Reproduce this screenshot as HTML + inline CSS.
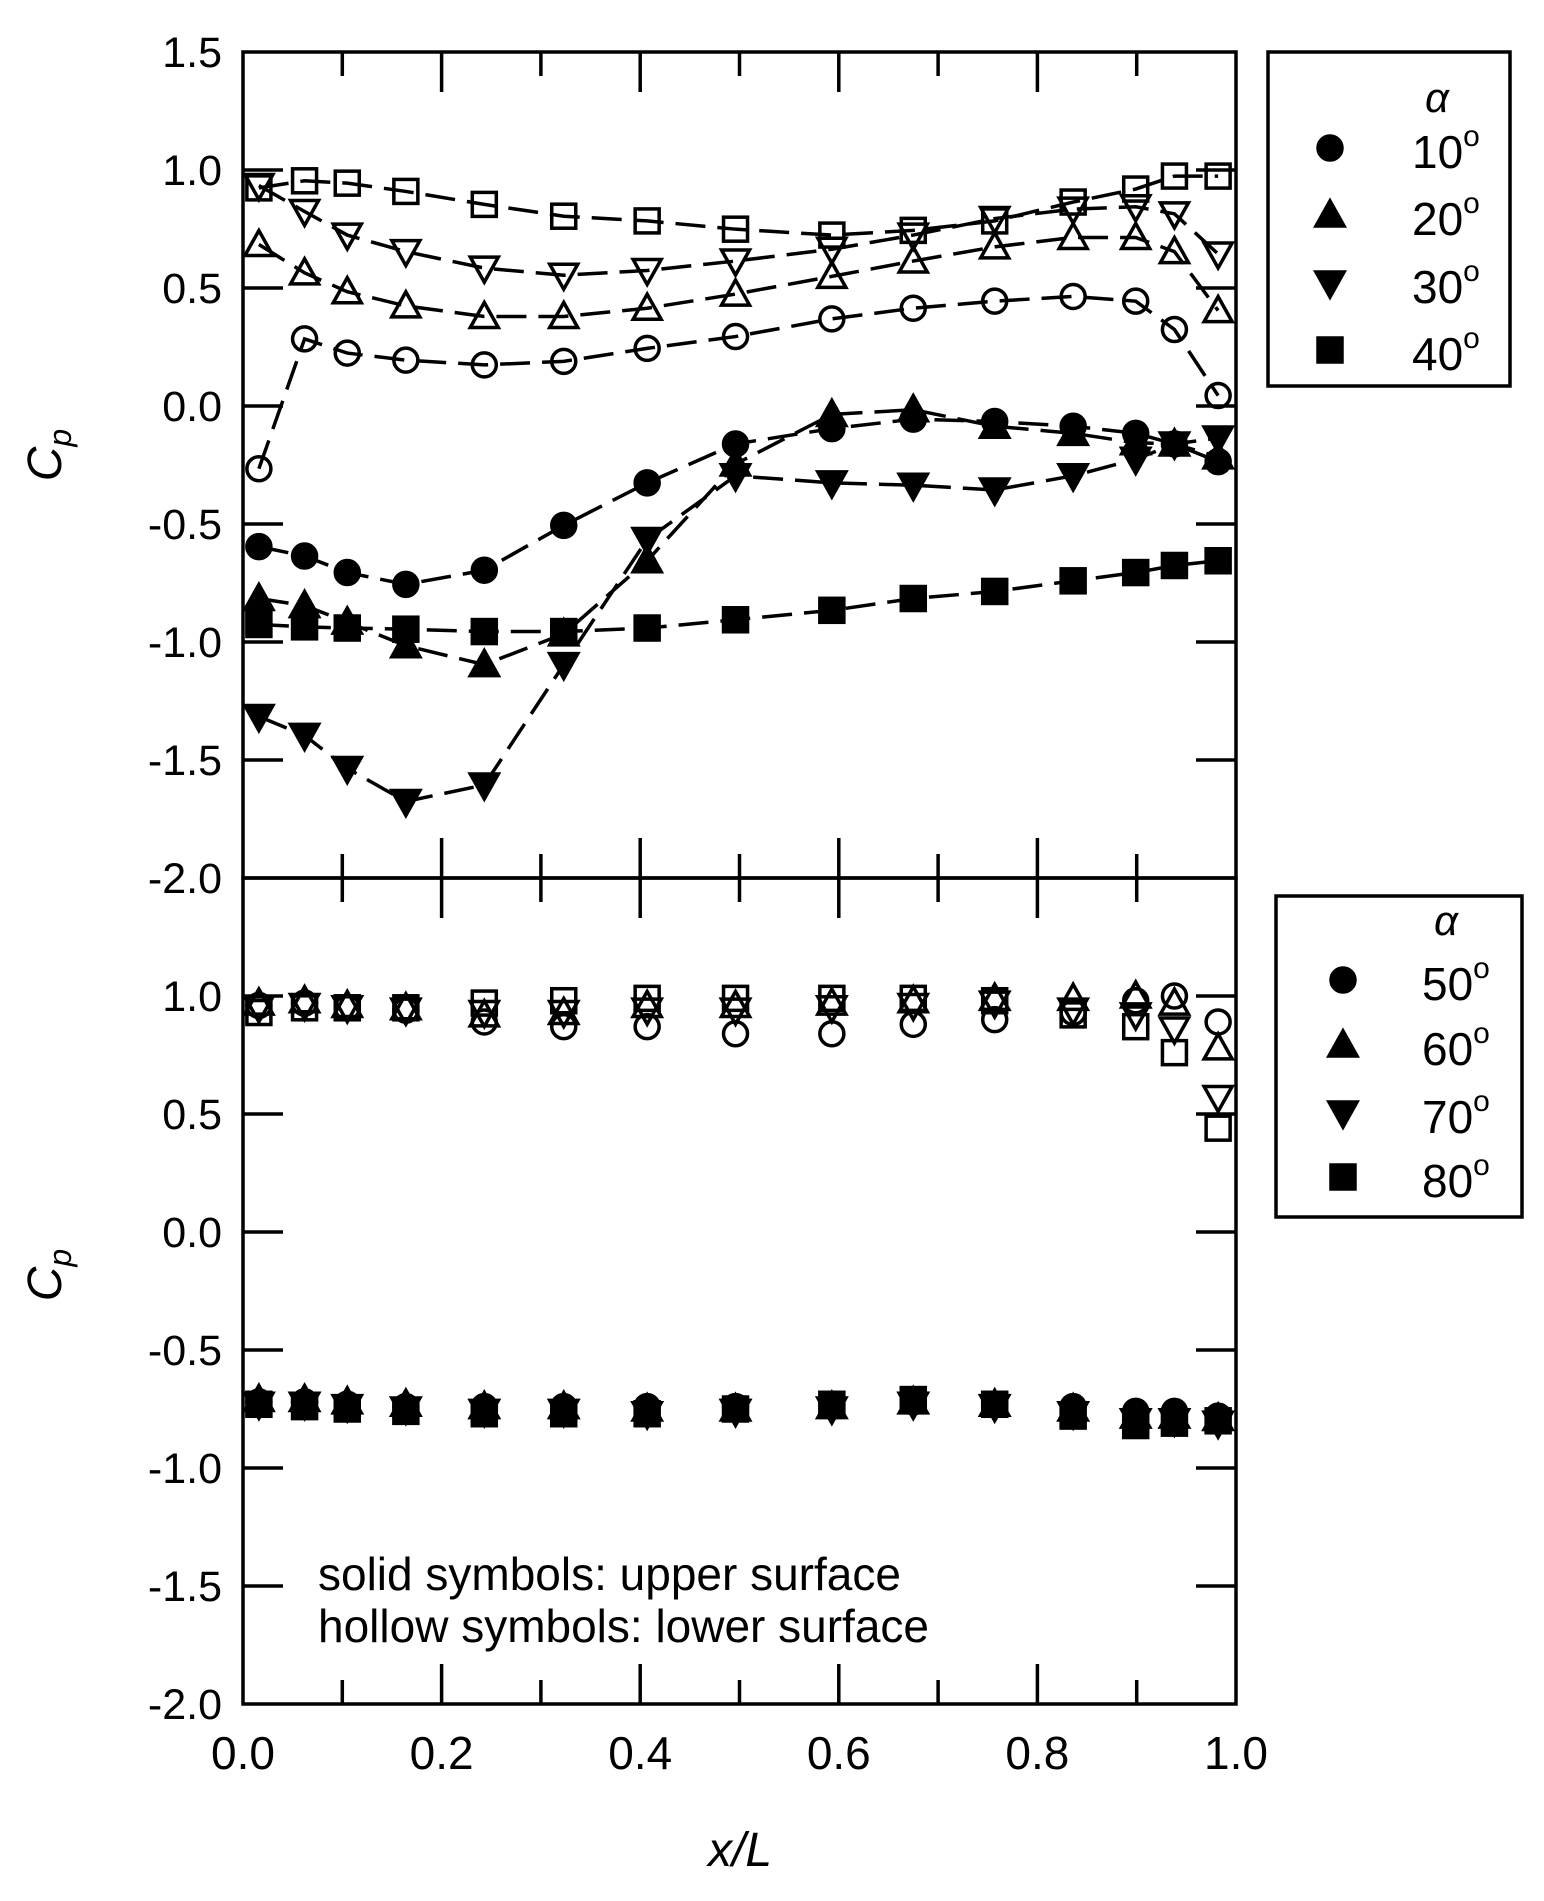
<!DOCTYPE html>
<html><head><meta charset="utf-8"><style>
html,body{margin:0;padding:0;background:#fff;}
svg{display:block;}
text{font-family:"Liberation Sans",Arial,sans-serif;fill:#000;}
</style></head><body>
<svg id="s" width="1544" height="1901" viewBox="0 0 1544 1901" xmlns="http://www.w3.org/2000/svg">
<rect width="1544" height="1901" fill="#fff"/>
<g id="g"></g>
<text x="318" y="1590" font-size="46">solid symbols: upper surface</text>
<text x="318" y="1642" font-size="46">hollow symbols: lower surface</text>
<text x="740" y="1866" font-size="48" font-style="italic" text-anchor="middle">x/L</text>
<text x="52" y="464" font-size="48" font-style="italic" text-anchor="middle" transform="rotate(-90 52 455)">C<tspan font-size="32" dy="10">p</tspan></text>
<text x="52" y="1284" font-size="48" font-style="italic" text-anchor="middle" transform="rotate(-90 52 1275)">C<tspan font-size="32" dy="10">p</tspan></text>
</svg>
<script>
var NS="http://www.w3.org/2000/svg",G=document.getElementById("g");
function el(t,a){var e=document.createElementNS(NS,t);for(var k in a)e.setAttribute(k,a[k]);G.appendChild(e);return e;}
function txt(x,y,s,fs,anc,extra){var a={x:x,y:y,"font-size":fs,"text-anchor":anc||"start"};if(extra)for(var k in extra)a[k]=extra[k];var e=el("text",a);e.textContent=s;return e;}
var L=243,R=1236,W=R-L;
function X(v){return L+v*W;}
function marker(type,filled,x,y){
  var f=filled?"#000":"none",st={stroke:"#000","stroke-width":3.5,fill:f};
  if(type==0){st.cx=x;st.cy=y;st.r=12;el("circle",st);}
  else if(type==1){st.points=(x-14)+","+(y+11)+" "+(x+14)+","+(y+11)+" "+x+","+(y-14);el("polygon",st);}
  else if(type==2){st.points=(x-14)+","+(y-11)+" "+(x+14)+","+(y-11)+" "+x+","+(y+14);el("polygon",st);}
  else {st.x=x-12;st.y=y-12;st.width=24;st.height=24;el("rect",st);}
}
[[52,878],[878,1704]].forEach(function(p){
  var t=p[0],b=p[1];
  el("rect",{x:L,y:t,width:W,height:b-t,fill:"none",stroke:"#000","stroke-width":3.5});
  for(var i=1;i<10;i++){var len=(i%2==0)?40:24,x=X(i/10);
    el("line",{x1:x,y1:b,x2:x,y2:b-len,stroke:"#000","stroke-width":3.5});
    el("line",{x1:x,y1:t,x2:x,y2:t+len,stroke:"#000","stroke-width":3.5});}
  for(var v=-1.5;v<1.5;v+=0.5){var y=b-(v+2)*236;
    el("line",{x1:L,y1:y,x2:L+40,y2:y,stroke:"#000","stroke-width":3.5});
    el("line",{x1:R,y1:y,x2:R-40,y2:y,stroke:"#000","stroke-width":3.5});}
  for(var v=-2;v<=1.51;v+=0.5){var y=b-(v+2)*236;
    if(t==878&&v>1.4)continue;
    txt(222,y+15,(v<0?"-":"")+Math.abs(v).toFixed(1),43,"end");}
});
["0.0","0.2","0.4","0.6","0.8","1.0"].forEach(function(s,i){txt(X(i*0.2),1769,s,46,"middle");});
var xs=[0.016,0.062,0.105,0.164,0.243,0.323,0.407,0.496,0.593,0.675,0.757,0.836,0.899,0.938,0.982];
var TD={
 l0:[-0.27,0.28,0.22,0.19,0.17,0.185,0.24,0.29,0.365,0.41,0.44,0.46,0.44,0.32,0.04],
 l1:[0.68,0.56,0.48,0.42,0.375,0.375,0.41,0.47,0.545,0.61,0.67,0.71,0.71,0.65,0.40],
 l2:[0.93,0.82,0.72,0.65,0.58,0.55,0.57,0.61,0.66,0.72,0.79,0.83,0.84,0.81,0.64],
 l3:[0.92,0.95,0.94,0.905,0.85,0.80,0.78,0.745,0.72,0.74,0.78,0.86,0.915,0.97,0.97],
 u0:[-0.60,-0.64,-0.71,-0.76,-0.70,-0.51,-0.33,-0.165,-0.10,-0.06,-0.07,-0.09,-0.12,-0.165,-0.24],
 u1:[-0.82,-0.85,-0.92,-1.02,-1.10,-0.97,-0.66,-0.25,-0.04,-0.02,-0.09,-0.12,-0.16,-0.165,-0.22],
 u2:[-1.32,-1.40,-1.54,-1.68,-1.61,-1.10,-0.57,-0.30,-0.33,-0.34,-0.36,-0.30,-0.23,-0.165,-0.14],
 u3:[-0.93,-0.94,-0.945,-0.95,-0.96,-0.96,-0.945,-0.91,-0.87,-0.82,-0.79,-0.745,-0.71,-0.68,-0.66]};
function TY(v){return 405-v*236;}
function BY(v){return 1232-v*236;}
var keys=["l0","l1","l2","l3","u0","u1","u2","u3"];
keys.forEach(function(k){
  var d=TD[k],pts=xs.map(function(x,i){return X(x)+","+TY(d[i]);}).join(" ");
  el("polyline",{points:pts,fill:"none",stroke:"#000","stroke-width":3.5,"stroke-dasharray":"30,12"});
});
keys.forEach(function(k){
  var t=+k[1],f=k[0]=="u";TD[k].forEach(function(v,i){marker(t,f,X(xs[i]),TY(v));});
});
var BD={
 l0:[0.96,0.97,0.95,0.94,0.89,0.87,0.87,0.84,0.84,0.88,0.90,0.93,0.98,1.0,0.89],
 l1:[0.97,0.98,0.96,0.95,0.92,0.93,0.96,0.96,0.97,0.98,0.99,0.99,1.0,0.97,0.78],
 l2:[0.95,0.96,0.95,0.94,0.93,0.93,0.94,0.94,0.95,0.96,0.97,0.94,0.92,0.86,0.57],
 l3:[0.93,0.95,0.95,0.95,0.97,0.98,0.99,0.99,0.99,0.99,0.98,0.92,0.87,0.76,0.44],
 u0:[-0.72,-0.72,-0.73,-0.74,-0.74,-0.74,-0.74,-0.74,-0.73,-0.72,-0.73,-0.74,-0.76,-0.76,-0.78],
 u1:[-0.71,-0.71,-0.72,-0.73,-0.74,-0.74,-0.75,-0.75,-0.74,-0.72,-0.73,-0.75,-0.78,-0.78,-0.79],
 u2:[-0.73,-0.73,-0.74,-0.75,-0.76,-0.76,-0.77,-0.76,-0.75,-0.73,-0.74,-0.77,-0.80,-0.80,-0.81],
 u3:[-0.73,-0.74,-0.75,-0.76,-0.77,-0.77,-0.77,-0.75,-0.73,-0.71,-0.73,-0.78,-0.82,-0.81,-0.80]};
["l3","l2","l1","l0","u3","u2","u1","u0"].forEach(function(k){
  var t=+k[1],f=k[0]=="u";BD[k].forEach(function(v,i){marker(t,f,X(xs[i]),BY(v));});
});
function legend(x1,y1,x2,y2,ax,ay,mx,tx,rows,labels){
  el("rect",{x:x1,y:y1,width:x2-x1,height:y2-y1,fill:"#fff",stroke:"#000","stroke-width":3.5});
  txt(ax,ay,"\u03b1",42,"middle",{"font-style":"italic","font-family":"Liberation Serif,serif"});
  rows.forEach(function(y,i){marker(i,true,mx,y);
    var e=txt(tx,y+20,labels[i],46,"start");
    var s=document.createElementNS(NS,"tspan");s.setAttribute("font-size","30");s.setAttribute("dy","-22");s.textContent="o";e.appendChild(s);});
}
legend(1268,52,1510,386,1437,112,1330,1412,[148,215,283,350],["10","20","30","40"]);
legend(1276,896,1522,1217,1446,935,1343,1422,[980,1045,1113,1177],["50","60","70","80"]);
</script>
</body></html>
